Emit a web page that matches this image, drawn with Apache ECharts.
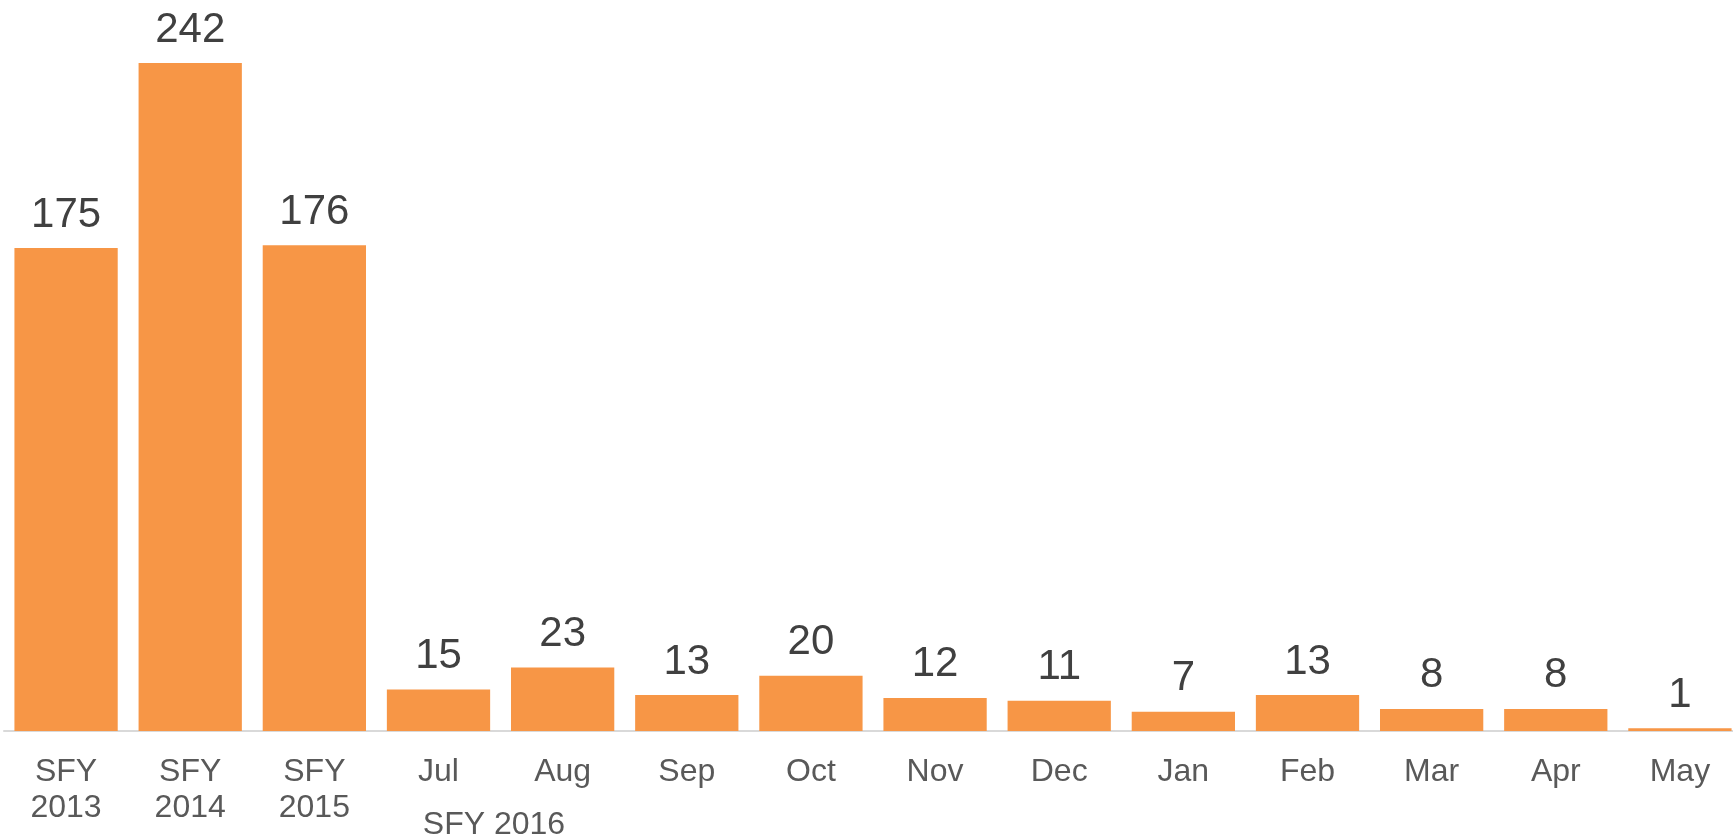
<!DOCTYPE html>
<html>
<head>
<meta charset="utf-8">
<script src="https://cdn.jsdelivr.net/npm/echarts@6/dist/echarts.min.js"></script>
<style>
html,body{margin:0;padding:0;background:#fff;overflow:hidden;}
#chart{width:1742px;height:840px;}
</style>
</head>
<body>
<div id="chart"></div>
<script>
const categories = ['SFY\n2013','SFY\n2014','SFY\n2015','Jul','Aug','Sep','Oct','Nov','Dec','Jan','Feb','Mar','Apr','May'];
const values = [175, 242, 176, 15, 23, 13, 20, 12, 11, 7, 13, 8, 8, 1];
const groupLabel = 'SFY 2016';

const chart = echarts.init(document.getElementById('chart'), null, {renderer:'canvas'});
chart.setOption({
  animation: false,
  backgroundColor: '#ffffff',
  grid: {left: 4, right: 0, top: 63, bottom: 109, containLabel: false},
  xAxis: {
    type: 'category',
    data: categories,
    axisLine: {lineStyle: {color: '#D9D9D9', width: 2}},
    axisTick: {show: false},
    axisLabel: {
      color: '#595959', fontFamily: 'Liberation Sans, Arial, sans-serif',
      fontSize: 32, lineHeight: 36, margin: 23, interval: 0
    }
  },
  yAxis: {
    type: 'value', min: 0, max: 242, show: false,
    splitLine: {show: false}
  },
  series: [{
    type: 'bar',
    data: values,
    barCategoryGap: '16.8%',
    itemStyle: {color: '#F79646'},
    label: {
      show: true, position: 'top', distance: 12,
      color: '#404040', fontSize: 42,
      fontFamily: 'Liberation Sans, Arial, sans-serif'
    }
  }],
  graphic: [{
    type: 'text',
    x: 494, y: 825,
    style: {
      text: groupLabel, fill: '#595959', fontSize: 32,
      fontFamily: 'Liberation Sans, Arial, sans-serif',
      textAlign: 'center', textVerticalAlign: 'middle'
    }
  }]
});
</script>
</body>
</html>
